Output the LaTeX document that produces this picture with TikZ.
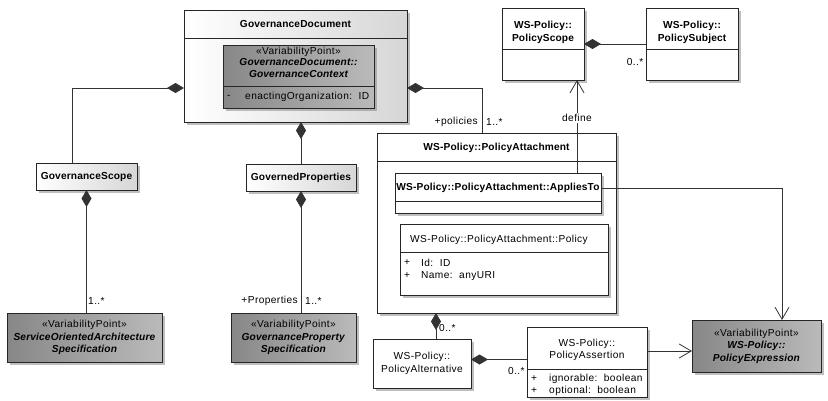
\documentclass[tikz,border=0pt]{standalone}
\usepackage{fontspec}
\setmainfont{Liberation Sans}[LetterSpace=1.5]
\newfontfamily\regsp{Liberation Sans}[LetterSpace=4]
\usetikzlibrary{arrows.meta,shadows,calc}

\tikzset{
  umlbox/.style={draw=black!85, line width=0.8bp, inner sep=0pt, outer sep=0pt, anchor=north west,
    drop shadow={shadow xshift=3bp, shadow yshift=-3bp, fill=black!50, opacity=0.5}},
  plainbox/.style={umlbox, fill=white},
  lightbox/.style={umlbox, left color=white, right color=black!16},
  varbox/.style={umlbox, left color=black!47, right color=black!27},
  compline/.style={draw=black!85, line width=0.8bp},
  mtxt/.style={inner sep=0pt, font=\fontsize{10.2}{12.5}\selectfont},
  txt/.style={inner sep=0pt, font=\fontsize{10.2}{12.5}\selectfont\regsp},
  btxt/.style={inner sep=0pt, font=\fontsize{10.2}{12.5}\selectfont\bfseries},
  itxt/.style={inner sep=0pt, font=\fontsize{10.2}{12.5}\selectfont\bfseries\itshape},
  link/.style={draw=black!80, line width=0.8bp},
  comp/.style={link, {Diamond[length=17bp,width=10bp]}-},
  dep/.style={link, -{Straight Barb[length=12bp,width=14bp]}},
}

\begin{document}
\begin{tikzpicture}[x=1bp,y=-1bp]
\useasboundingbox (0,0) rectangle (828,400);

% ---- governance side ----
\node[lightbox, minimum width=223bp, minimum height=112bp] (gd) at (184,10) {};
\draw[compline] (184,38) -- (407,38);
\node[btxt] (gdT) at (295.5,24) {GovernanceDocument};

\node[varbox, minimum width=151bp, minimum height=63bp] (gc) at (223,45) {};
\draw[compline] (223,86) -- (374,86);
\node[txt] (gcS) at (298.5,52) {«VariabilityPoint»};
\node[itxt] (gcN1) at (298.5,62) {GovernanceDocument::};
\node[itxt] (gcN2) at (298.5,74) {GovernanceContext};
\node[txt, anchor=west] (gcA1) at (227,97) {-};
\node[txt, anchor=west] (gcA2) at (245,97) {enactingOrganization:\ \ ID};

\node[lightbox, btxt, minimum width=101bp, minimum height=27bp] (gs) at (36,163) {GovernanceScope};
\node[lightbox, btxt, minimum width=110bp, minimum height=27bp] (gp) at (246,164) {GovernedProperties};

\node[varbox, mtxt, align=center, minimum width=155bp, minimum height=49bp] (soa) at (7,313)
  {{\regsp «VariabilityPoint»}\\\textbf{\textit{ServiceOrientedArchitecture}}\\\textbf{\textit{Specification}}};
\node[varbox, mtxt, align=center, minimum width=125bp, minimum height=49bp] (gps) at (231,313)
  {{\regsp «VariabilityPoint»}\\\textbf{\textit{GovernanceProperty}}\\\textbf{\textit{Specification}}};

% ---- WS-Policy side ----
\node[plainbox, minimum width=82bp, minimum height=72bp] (ps) at (502,8) {};
\draw[compline] (502,49) -- (584,49);
\node[btxt, align=center] (psT) at (543,32.5) {WS-Policy::\\PolicyScope};

\node[plainbox, minimum width=92bp, minimum height=72bp] (psub) at (646,8) {};
\draw[compline] (646,49) -- (738,49);
\node[btxt, align=center] (psubT) at (692,32.5) {WS-Policy::\\PolicySubject};

\node[plainbox, minimum width=239bp, minimum height=180bp] (pa) at (377,133) {};
\draw[compline] (377,161) -- (616,161);
\node[btxt] (paT) at (496.5,148) {WS-Policy::PolicyAttachment};

\node[plainbox, minimum width=206bp, minimum height=40bp] (at) at (395,173) {};
\draw[compline] (395,201) -- (601,201);
\node[btxt] (atT) at (498,188) {WS-Policy::PolicyAttachment::AppliesTo};

\node[plainbox, minimum width=208bp, minimum height=71bp] (pol) at (400,224) {};
\draw[compline] (400,252) -- (608,252);
\node[txt] (polT) at (499,240) {WS-Policy::PolicyAttachment::Policy};
\node[txt, anchor=west] (polA1) at (404,263) {+};
\node[txt, anchor=west] (polA2) at (421,263) {Id:\ \ ID};
\node[txt, anchor=west] (polB1) at (404,276) {+};
\node[txt, anchor=west] (polB2) at (421,276) {Name:\ \ anyURI};

\node[plainbox, txt, align=center, minimum width=98bp, minimum height=49bp] (palt) at (373,339)
  {WS-Policy::\\PolicyAlternative};

\node[plainbox, minimum width=120bp, minimum height=70bp] (pas) at (527,327) {};
\draw[compline] (527,369) -- (647,369);
\node[txt, align=center] (pasT) at (587,350) {WS-Policy::\\PolicyAssertion};
\node[txt, anchor=west] (pasA1) at (531,379) {+};
\node[txt, anchor=west] (pasA2) at (549,379) {ignorable:\ \ boolean};
\node[txt, anchor=west] (pasB1) at (531,391) {+};
\node[txt, anchor=west] (pasB2) at (549,391) {optional:\ \ boolean};

\node[varbox, mtxt, align=center, minimum width=129bp, minimum height=52bp] (pe) at (692,320)
  {{\regsp «VariabilityPoint»}\\\textbf{\textit{WS-Policy::}}\\\textbf{\textit{PolicyExpression}}};

% ---- connectors ----
\draw[comp] ($(gd.west)+(0,22)$) -| ($(gs.north)+(-14.5,0)$);
\draw[comp] (gd.south -| gp.north) -- (gp.north);
\draw[comp] (gs.south) -- (gs.south |- soa.north);
\draw[comp] (gp.south) -- (gp.south |- gps.north);
\draw[comp] ($(gd.east)+(0,22)$) -| ($(pa.north west)+(105,0)$);

\coordinate (psIn) at ($(ps.south east)+(-7,0)$);
\draw[dep] (at.north -| psIn) -- node[txt, fill=white, inner sep=1bp, pos=0.59] (defL) {define} (psIn);
\draw[comp] (ps.east) -- (psub.west);

\draw[dep] ($(at.east)+(0,-5)$) -| ($(pe.north east)+(-39,0)$);
\coordinate (peIn) at ($(pe.west)+(0,5)$);
\draw[dep] (pas.east |- peIn) -- (peIn);

\coordinate (paB) at ($(pa.south west)+(59,0)$);
\draw[comp] (paB) -- (paB |- palt.north);
\coordinate (paltR) at ($(palt.east)+(0,-4)$);
\draw[comp] (paltR) -- (paltR -| pas.west);

% ---- role names and multiplicities ----
\node[txt, anchor=west] (m1) at (88,301) {1..*};
\node[txt, anchor=east] (r2) at (298,301) {+Properties};
\node[txt, anchor=west] (m2) at (305,301) {1..*};
\node[txt, anchor=east] (r3) at (478,122) {+policies};
\node[txt, anchor=west] (m3) at (486,122) {1..*};
\node[txt] (m4) at (635,62) {0..*};
\node[txt, anchor=west] (m5) at (439,328) {0..*};
\node[txt, anchor=west] (m6) at (508,371) {0..*};
\end{tikzpicture}
\end{document}
